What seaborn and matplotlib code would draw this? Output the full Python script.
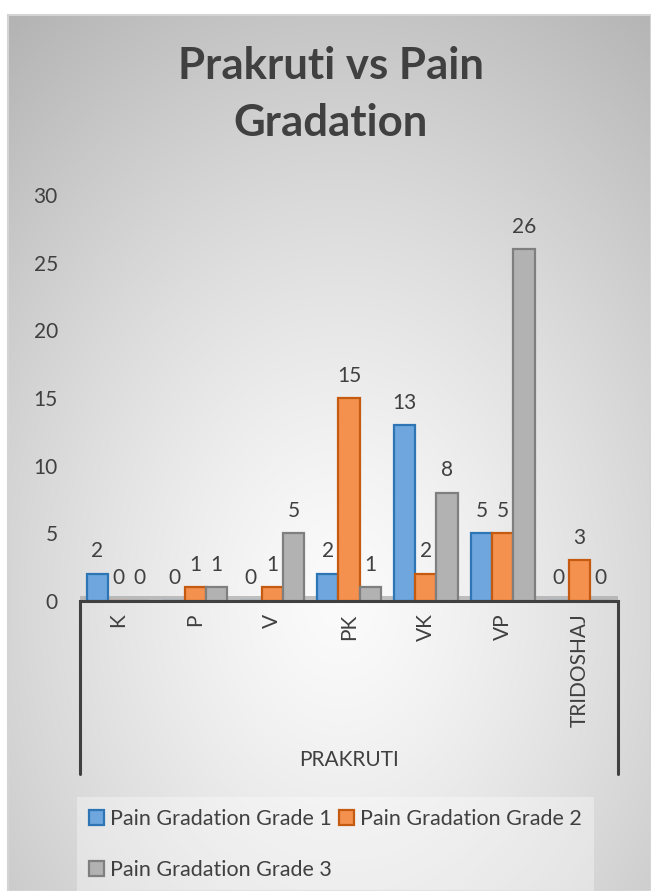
import numpy as np
import pandas as pd
import matplotlib
matplotlib.use("Agg")
import matplotlib.pyplot as plt
import seaborn as sns
from matplotlib.lines import Line2D
from matplotlib.patches import Rectangle

categories = ["K", "P", "V", "PK", "VK", "VP", "TRIDOSHAJ"]
series_names = ["Pain Gradation Grade 1", "Pain Gradation Grade 2", "Pain Gradation Grade 3"]
grade1 = [2, 0, 0, 2, 13, 5, 0]
grade2 = [0, 1, 1, 15, 2, 5, 3]
grade3 = [0, 1, 5, 1, 8, 26, 0]
y_ticks = [0, 5, 10, 15, 20, 25, 30]

fills = ["#6EA6DD", "#F4914E", "#B2B2B2"]
edges = ["#2E75B6", "#C55A11", "#7F7F7F"]
txt = "#404040"

sns.set_theme(style="white")
plt.rcParams["font.family"] = ["Lato", "DejaVu Sans"]

rows = []
for name, vals in zip(series_names, [grade1, grade2, grade3]):
    for c, v in zip(categories, vals):
        rows.append({"Prakruti": c, "Series": name, "Value": v})
df = pd.DataFrame(rows)

W, H = 651, 891
fig = plt.figure(figsize=(W / 100, H / 100), dpi=100)
fig.patch.set_facecolor("white")

# background gradient panel
bx0, by_top = 8, 15
bg_ax = fig.add_axes([bx0 / W, 0, 1 - bx0 / W, 1 - by_top / H])
bg_ax.set_axis_off()
ny, nx = 300, 300
yy, xx = np.mgrid[0:ny, 0:nx]
px = bx0 + xx / (nx - 1) * (W - bx0)
py = by_top + yy / (ny - 1) * (H - by_top)
cx, cy = 340, 600
r = np.sqrt(((px - cx) / 420) ** 2 + ((py - cy) / 560) ** 2)
val = 0.985 - 0.2 * np.clip(r, 0, 1.3) ** 1.3
img = np.dstack([val, val, val])
bg_ax.imshow(img, aspect="auto", extent=[0, 1, 1, 0], interpolation="bilinear")
bg_ax.set_xlim(0, 1)
bg_ax.set_ylim(1, 0)
fig.patches.append(Rectangle((bx0 / W, 0), 1 - bx0 / W, 1 - by_top / H, transform=fig.transFigure,
                             fill=False, edgecolor="#d4d4d4", linewidth=1.5, zorder=1))

# main axes
left, right = 80 / W, 618 / W
bottom = 1 - 601 / H
top = 1 - 195 / H
ax = fig.add_axes([left, bottom, right - left, top - bottom])
ax.set_facecolor("none")

sns.barplot(data=df, x="Prakruti", y="Value", hue="Series", order=categories,
            hue_order=series_names, palette=fills, width=0.83, ax=ax,
            saturation=1, errorbar=None, linewidth=1.6)
for cont, ec in zip(ax.containers, edges):
    for p in cont:
        p.set_edgecolor(ec)
    ax.bar_label(cont, fmt="%g", padding=9, fontsize=15, color=txt)

handles, labels = ax.get_legend_handles_labels()
if ax.get_legend() is not None:
    ax.get_legend().remove()

ax.set_xlim(-0.5, 6.5)
ax.set_ylim(0, 30)
ax.set_yticks(y_ticks)
ax.set_yticklabels([str(t) for t in y_ticks], fontsize=15, color=txt)
ax.tick_params(axis="y", length=0, pad=16)
ax.tick_params(axis="x", length=0, pad=9)
for lab in ax.get_xticklabels():
    lab.set_rotation(90)
    lab.set_fontsize(15)
    lab.set_color(txt)
    lab.set_va("top")
ax.set_xlabel("")
ax.set_ylabel("")
for s in ["top", "left", "right"]:
    ax.spines[s].set_visible(False)
ax.spines["bottom"].set_color(txt)
ax.spines["bottom"].set_linewidth(2.2)
ax.grid(False)

# floor strip
ax.axhspan(0.0, 0.35, color="#a8a8a8", alpha=0.7, zorder=0.5, lw=0)

# category box lines
box_bottom = 1 - 774 / H
for xf in [left, right]:
    fig.add_artist(Line2D([xf, xf], [bottom, box_bottom], transform=fig.transFigure,
                          color=txt, linewidth=2.2))

fig.text((left + right) / 2, 1 - 760 / H, "PRAKRUTI", ha="center", va="center",
         fontsize=15, color=txt)

fig.text(0.508, 1 - 66 / H, "Prakruti vs Pain", ha="center", va="center",
         fontsize=31.5, fontweight="bold", color=txt)
fig.text(0.508, 1 - 123 / H, "Gradation", ha="center", va="center",
         fontsize=31.5, fontweight="bold", color=txt)

for h, ec in zip(handles, edges):
    h.set_edgecolor(ec)
    h.set_linewidth(1.6)
order = [0, 2, 1]
leg = fig.legend([handles[i] for i in order], [labels[i] for i in order],
                 loc="upper left", bbox_to_anchor=(77 / W, 1 - 797 / H),
                 ncol=2, fontsize=15.5, frameon=True, handlelength=0.7, handleheight=0.7,
                 handletextpad=0.3, columnspacing=0.3, labelspacing=1.45, borderpad=0.55,
                 borderaxespad=0)
leg.get_frame().set_facecolor("white")
leg.get_frame().set_alpha(0.35)
leg.get_frame().set_edgecolor("none")
leg.get_frame().set_boxstyle("square", pad=0)
for t in leg.get_texts():
    t.set_color(txt)

fig.savefig("out.png", dpi=100)
